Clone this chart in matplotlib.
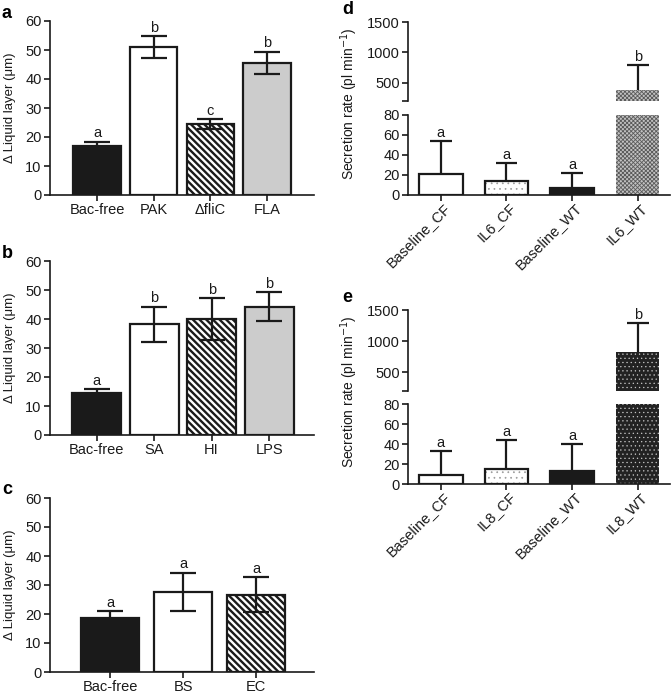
"""Bar panels a-c (liquid layer) and broken-axis panels d-e (secretion rate)."""
import numpy as np
import matplotlib.pyplot as plt
from matplotlib.transforms import ScaledTranslation

plt.rcParams['font.family'] = ['Liberation Sans', 'DejaVu Sans']
plt.rcParams['hatch.linewidth'] = 1.7

# ---- data ----
a_labels = ['Bac-free', 'PAK', '\u0394fliC', 'FLA']
a_mean = [16.9, 50.9, 24.5, 45.6]
a_err = [1.5, 3.8, 1.6, 3.8]
a_sig = ['a', 'b', 'c', 'b']

b_labels = ['Bac-free', 'SA', 'HI', 'LPS']
b_mean = [14.4, 38.2, 40.0, 44.2]
b_err = [1.4, 6.0, 7.2, 5.0]
b_sig = ['a', 'b', 'b', 'b']

c_labels = ['Bac-free', 'BS', 'EC']
c_mean = [18.7, 27.7, 26.6]
c_err = [2.3, 6.5, 6.0]
c_sig = ['a', 'a', 'a']

d_labels = ['Baseline_CF', 'IL6_CF', 'Baseline_WT', 'IL6_WT']
d_mean = [21, 14, 7, 385]
d_err = [33, 18, 15, 405]
d_sig = ['a', 'a', 'a', 'b']

e_labels = ['Baseline_CF', 'IL8_CF', 'Baseline_WT', 'IL8_WT']
e_mean = [9, 15, 13, 830]
e_err = [24, 29, 27, 460]
e_sig = ['a', 'a', 'a', 'b']

# ---- styles ----
INK = '#1a1a1a'
STY = {
    'black': dict(fc=INK, hatch=None, hc=None, hlw=None, edge=True),
    'white': dict(fc='white', hatch=None, hc=None, hlw=None, edge=True),
    'stripe': dict(fc='white', hatch='\\\\\\\\\\', hc=INK, hlw=1.7, edge=True),
    'gray': dict(fc='#cccccc', hatch=None, hc=None, hlw=None, edge=True),
    'dots': dict(fc='white', hatch='...', hc='#9a9a9a', hlw=0.5, edge=True),
    'check': dict(fc='#c2c2c2', hatch='xxxxxxxx', hc='#5a5a5a', hlw=0.6,
                  edge=False),
    'darkdots': dict(fc='#222222', hatch='....', hc='#c8c8c8', hlw=0.4,
                     edge=False),
}
abc_styles = [['black', 'white', 'stripe', 'gray'],
              ['black', 'white', 'stripe', 'gray'],
              ['black', 'white', 'stripe']]
d_styles = ['white', 'dots', 'black', 'check']
e_styles = ['white', 'dots', 'black', 'darkdots']

FS = 10.5
W, H = 671, 694
fig = plt.figure(figsize=(W / 100, H / 100), dpi=100)


def px_axes(x0, y0, x1, y1):
    return fig.add_axes([x0 / W, 1 - y1 / H, (x1 - x0) / W, (y1 - y0) / H])


def draw_bars(ax, x, mean, styles, width):
    for xi, m, s in zip(x, mean, styles):
        st = STY[s]
        if st['hatch']:
            with plt.rc_context({'hatch.linewidth': st['hlw']}):
                bars = ax.bar(xi, m, width, color=st['fc'],
                              edgecolor=st['hc'], hatch=st['hatch'],
                              linewidth=0, zorder=2)
            for p in bars:
                if hasattr(p, 'set_hatch_linewidth'):
                    p.set_hatch_linewidth(st['hlw'])
        else:
            ax.bar(xi, m, width, color=st['fc'], linewidth=0, zorder=2)
        if st['edge']:
            ax.bar(xi, m, width, fill=False, edgecolor=INK, linewidth=1.6,
                   zorder=3)


def style_axes(ax):
    for sp in ['top', 'right']:
        ax.spines[sp].set_visible(False)
    for sp in ['left', 'bottom']:
        ax.spines[sp].set_linewidth(1.2)
        ax.spines[sp].set_color(INK)
    ax.tick_params(width=1.2, length=4, color=INK, labelsize=FS,
                   labelcolor=INK, pad=2)


def abc_panel(box, labels, mean, err, sig, styles, xlim, width, letter):
    ax = px_axes(*box)
    x = np.arange(len(labels))
    draw_bars(ax, x, mean, styles, width)
    ax.errorbar(x, mean, yerr=err, fmt='none', ecolor=INK, elinewidth=1.6,
                capsize=9.5, capthick=1.6, zorder=4)
    for xi, m, e, s in zip(x, mean, err, sig):
        ax.annotate(s, (xi, m + e), xytext=(0, 1), textcoords='offset points',
                    ha='center', va='bottom', fontsize=FS, color=INK)
    ax.set_ylim(0, 60)
    ax.set_yticks(range(0, 61, 10))
    ax.set_xlim(*xlim)
    ax.set_xticks(x)
    ax.set_xticklabels(labels)
    style_axes(ax)
    ax.set_ylabel('\u0394 Liquid layer (\u03bcm)', fontsize=9.5, color=INK)
    ax.yaxis.set_label_coords(-0.13, 0.5)
    fig.text(2 / W, 1 - (box[1] - 8) / H, letter, fontsize=13,
             fontweight='bold', va='center', ha='left')
    return ax


abc_panel((50, 21, 314, 195), a_labels, a_mean, a_err, a_sig, abc_styles[0],
          (-0.83, 3.83), 0.84, 'a')
abc_panel((50, 261, 314, 435), b_labels, b_mean, b_err, b_sig, abc_styles[1],
          (-0.81, 3.78), 0.85, 'b')
abc_panel((50, 498, 314, 672), c_labels, c_mean, c_err, c_sig, abc_styles[2],
          (-0.82, 2.79), 0.8, 'c')


def broken_panel(top_box, bot_box, labels, mean, err, sig, styles, letter):
    ax_t = px_axes(*top_box)
    ax_b = px_axes(*bot_box)
    x = np.arange(len(labels))
    width = 0.66
    for ax in (ax_t, ax_b):
        draw_bars(ax, x, mean, styles, width)
        top = np.array(mean) + np.array(err)
        ax.vlines(x, mean, top, color=INK, linewidth=1.6, zorder=4)
        ax.hlines(top, x - 0.165, x + 0.165, color=INK, linewidth=1.6,
                  zorder=4)
        ax.set_xlim(-0.5, 3.49)
        style_axes(ax)
    ax_t.set_ylim(200, 1500)
    ax_b.set_ylim(0, 80)
    ax_t.set_yticks([200, 500, 1000, 1500])
    ax_t.set_yticklabels(['', '500', '1000', '1500'])
    ax_b.set_yticks(range(0, 81, 20))
    ax_t.spines['bottom'].set_visible(False)
    ax_t.tick_params(axis='x', bottom=False, labelbottom=False)
    ax_b.set_xticks(x)
    ax_b.set_xticklabels(labels, rotation=45, ha='right', va='center',
                         rotation_mode='anchor')
    ax_b.tick_params(axis='x', pad=5)
    shift = ScaledTranslation(7 / 100, 2 / 100, fig.dpi_scale_trans)
    for lab in ax_b.get_xticklabels():
        lab.set_transform(lab.get_transform() + shift)
    for xi, m, e, s in zip(x, mean, err, sig):
        ax = ax_t if m + e > 80 else ax_b
        ax.annotate(s, (xi, m + e), xytext=(0, 1), textcoords='offset points',
                    ha='center', va='bottom', fontsize=FS, color=INK)
    mid = (top_box[1] + bot_box[3]) / 2 - 5
    fig.text(349 / W, 1 - mid / H, 'Secretion rate (pl min$^{-1}$)',
             rotation=90, fontsize=10, ha='center', va='center', color=INK)
    fig.text(342 / W, 1 - (top_box[1] - 12) / H, letter, fontsize=13,
             fontweight='bold', va='center', ha='left')


broken_panel((408, 22, 670, 101), (408, 115, 670, 195), d_labels, d_mean,
             d_err, d_sig, d_styles, 'd')
broken_panel((408, 310, 670, 391), (408, 404, 670, 484), e_labels, e_mean,
             e_err, e_sig, e_styles, 'e')

fig.savefig('out.png', dpi=100)
